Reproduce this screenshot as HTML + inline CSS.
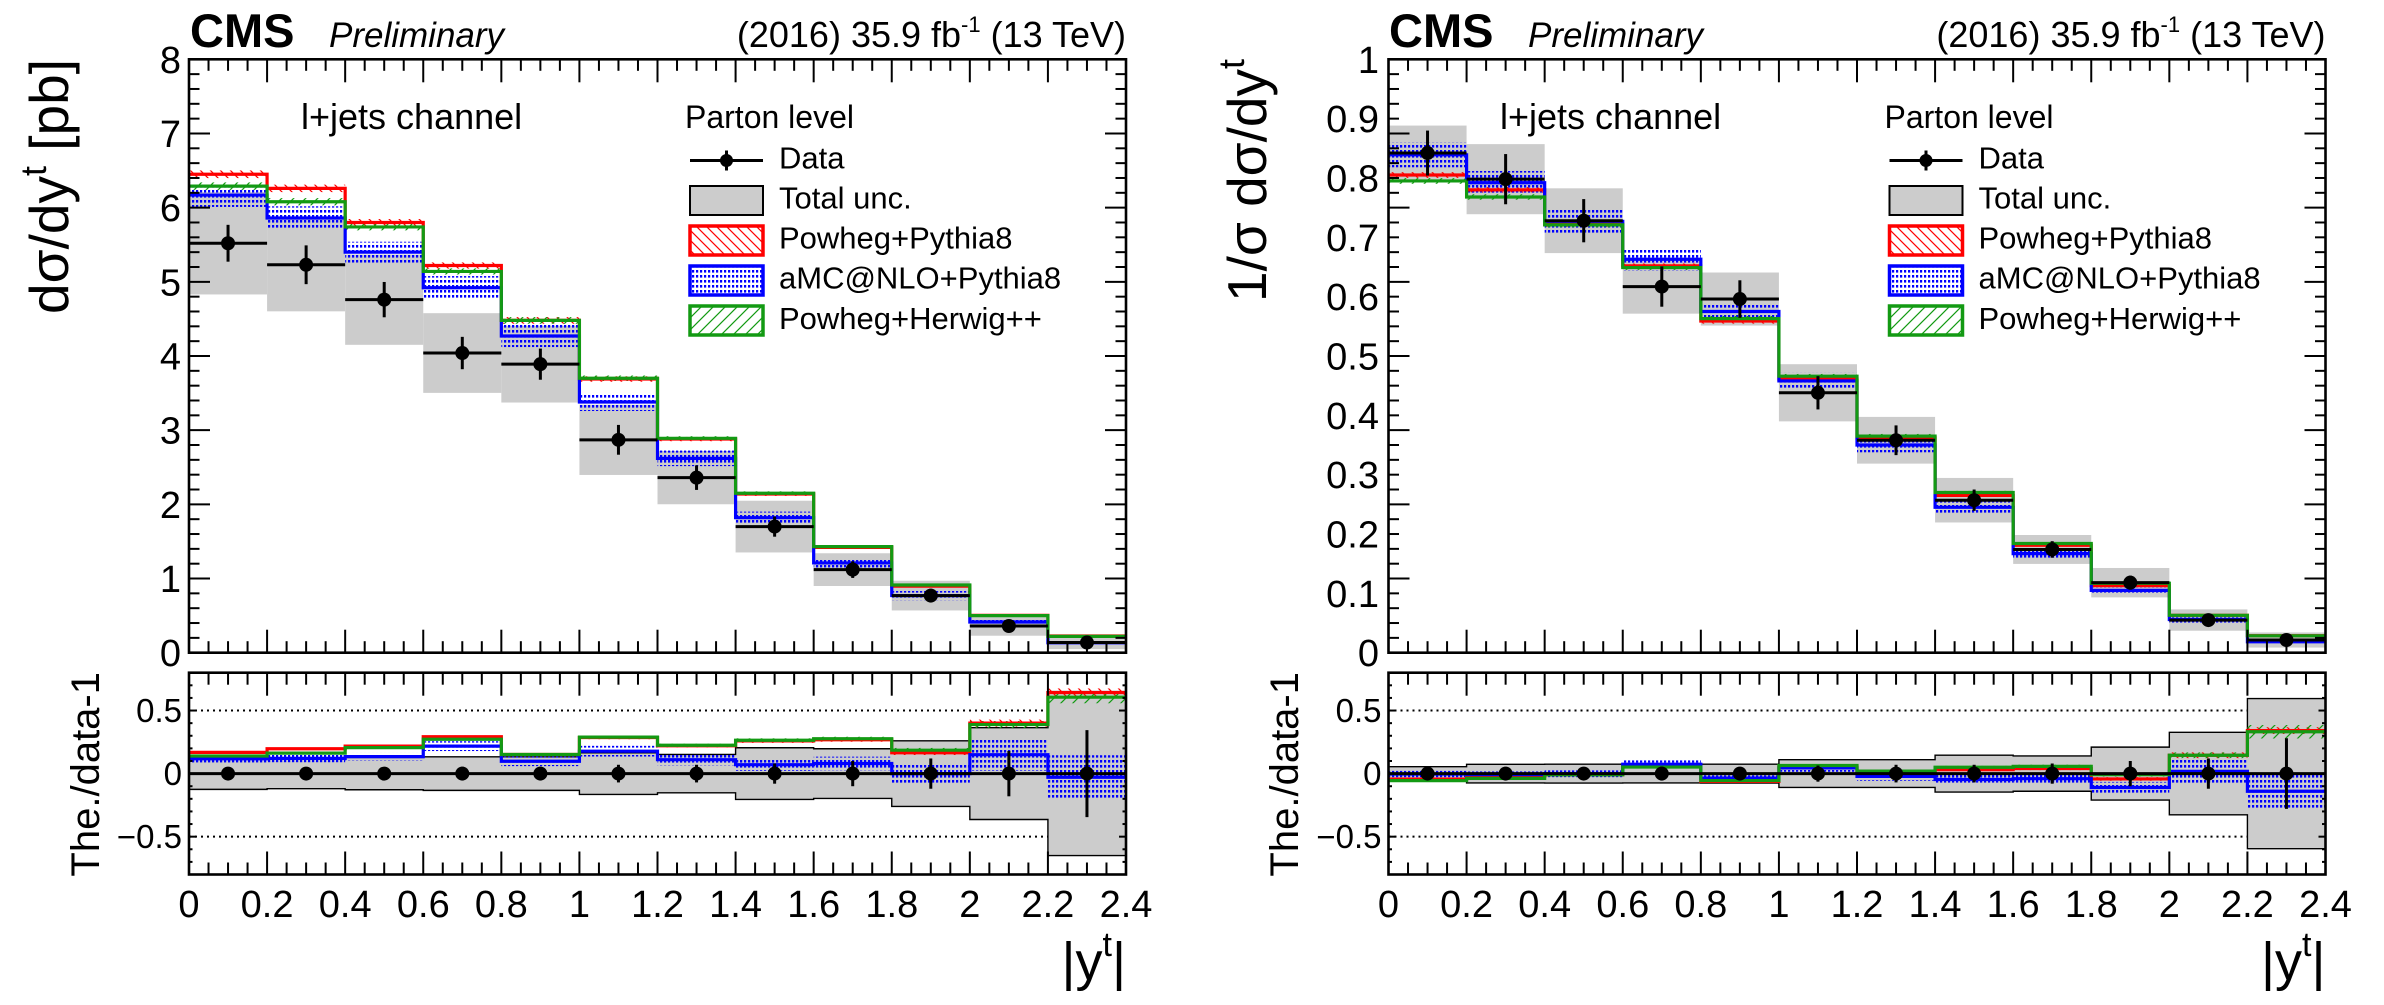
<!DOCTYPE html>
<html><head><meta charset="utf-8">
<style>
html,body{margin:0;padding:0;background:#fff;}
svg{display:block;}
text{font-family:"Liberation Sans",Arial,sans-serif;fill:#000;}
</style></head>
<body>
<svg id="s" width="2384" height="1005" viewBox="0 0 2384 1005" xmlns="http://www.w3.org/2000/svg">
<defs>
 <pattern id="pBlue" width="4" height="5" patternUnits="userSpaceOnUse">
   <rect x="0" y="0" width="2.2" height="2.6" fill="#0000ff"/>
 </pattern>
 <pattern id="pRed" width="10" height="10" patternUnits="userSpaceOnUse">
   <path d="M0,0 L10,10 M-2,8 L2,12 M8,-2 L12,2" stroke="#ff0000" stroke-width="1.2" fill="none"/>
 </pattern>
 <pattern id="pGreen" width="12" height="12" patternUnits="userSpaceOnUse">
   <path d="M0,12 L12,0 M-2,2 L2,-2 M10,14 L14,10" stroke="#139a13" stroke-width="1.2" fill="none"/>
 </pattern>
</defs>
<g id="plots"></g>

<!-- Left panel text -->
<text x="190" y="47" font-size="47" font-weight="bold">CMS</text>
<text x="329" y="47" font-size="35" font-style="italic">Preliminary</text>
<text x="1126" y="47" font-size="36" text-anchor="end">(2016) 35.9 fb<tspan dy="-15" font-size="22">-1</tspan><tspan dy="15"> (13 TeV)</tspan></text>
<text x="301" y="129" font-size="36">l+jets channel</text>
<text x="685" y="128" font-size="32">Parton level</text>
<text x="779" y="168.5" font-size="31">Data</text>
<text x="779" y="208.5" font-size="31">Total unc.</text>
<text x="779" y="248.5" font-size="31">Powheg+Pythia8</text>
<text x="779" y="288.5" font-size="31">aMC@NLO+Pythia8</text>
<text x="779" y="329" font-size="31">Powheg+Herwig++</text>

<text transform="translate(68,59) rotate(-90)" text-anchor="end" font-size="55">dσ/dy<tspan dy="-22" font-size="36">t</tspan><tspan dy="22"> [pb]</tspan></text>
<text transform="translate(99,672) rotate(-90)" text-anchor="end" font-size="40">The./data-1</text>

<g font-size="38" text-anchor="end">
<text x="181" y="666.2">0</text>
<text x="181" y="592.0">1</text>
<text x="181" y="517.9">2</text>
<text x="181" y="443.7">3</text>
<text x="181" y="369.5">4</text>
<text x="181" y="295.3">5</text>
<text x="181" y="221.2">6</text>
<text x="181" y="147.0">7</text>
<text x="181" y="72.8">8</text>
</g>
<g font-size="33" text-anchor="end">
<text x="182" y="722">0.5</text>
<text x="182" y="785.1">0</text>
<text x="182" y="848.2">−0.5</text>
</g>
<g font-size="38" text-anchor="middle">
<text x="189" y="917">0</text>
<text x="267.1" y="917">0.2</text>
<text x="345.2" y="917">0.4</text>
<text x="423.3" y="917">0.6</text>
<text x="501.3" y="917">0.8</text>
<text x="579.4" y="917">1</text>
<text x="657.5" y="917">1.2</text>
<text x="735.6" y="917">1.4</text>
<text x="813.7" y="917">1.6</text>
<text x="891.8" y="917">1.8</text>
<text x="969.8" y="917">2</text>
<text x="1047.9" y="917">2.2</text>
<text x="1126" y="917">2.4</text>
</g>
<text x="1126" y="980" font-size="54" text-anchor="end">|y<tspan dy="-24" font-size="34">t</tspan><tspan dy="24">|</tspan></text>

<!-- Right panel text -->
<text x="1389" y="47" font-size="47" font-weight="bold">CMS</text>
<text x="1528" y="47" font-size="35" font-style="italic">Preliminary</text>
<text x="2325.5" y="47" font-size="36" text-anchor="end">(2016) 35.9 fb<tspan dy="-15" font-size="22">-1</tspan><tspan dy="15"> (13 TeV)</tspan></text>
<text x="1500" y="129" font-size="36">l+jets channel</text>
<text x="1884.5" y="128" font-size="32">Parton level</text>
<text x="1978.5" y="168.5" font-size="31">Data</text>
<text x="1978.5" y="208.5" font-size="31">Total unc.</text>
<text x="1978.5" y="248.5" font-size="31">Powheg+Pythia8</text>
<text x="1978.5" y="288.5" font-size="31">aMC@NLO+Pythia8</text>
<text x="1978.5" y="329" font-size="31">Powheg+Herwig++</text>

<text transform="translate(1266,59) rotate(-90)" text-anchor="end" font-size="55">1/σ dσ/dy<tspan dy="-22" font-size="36">t</tspan></text>
<text transform="translate(1298,672) rotate(-90)" text-anchor="end" font-size="40">The./data-1</text>

<g font-size="38" text-anchor="end">
<text x="1379" y="666.2">0</text>
<text x="1379" y="606.9">0.1</text>
<text x="1379" y="547.5">0.2</text>
<text x="1379" y="488.2">0.3</text>
<text x="1379" y="428.8">0.4</text>
<text x="1379" y="369.5">0.5</text>
<text x="1379" y="310.2">0.6</text>
<text x="1379" y="250.8">0.7</text>
<text x="1379" y="191.5">0.8</text>
<text x="1379" y="132.1">0.9</text>
<text x="1379" y="72.8">1</text>
</g>
<g font-size="33" text-anchor="end">
<text x="1381.5" y="722">0.5</text>
<text x="1381.5" y="785.1">0</text>
<text x="1381.5" y="848.2">−0.5</text>
</g>
<g font-size="38" text-anchor="middle">
<text x="1388.5" y="917">0</text>
<text x="1466.6" y="917">0.2</text>
<text x="1544.7" y="917">0.4</text>
<text x="1622.8" y="917">0.6</text>
<text x="1700.8" y="917">0.8</text>
<text x="1778.9" y="917">1</text>
<text x="1857" y="917">1.2</text>
<text x="1935.1" y="917">1.4</text>
<text x="2013.2" y="917">1.6</text>
<text x="2091.3" y="917">1.8</text>
<text x="2169.3" y="917">2</text>
<text x="2247.4" y="917">2.2</text>
<text x="2325.5" y="917">2.4</text>
</g>
<text x="2325.5" y="980" font-size="54" text-anchor="end">|y<tspan dy="-24" font-size="34">t</tspan><tspan dy="24">|</tspan></text>
</svg>

<script>
(function(){
const NS="http://www.w3.org/2000/svg";
const root=document.getElementById('plots');
function el(tag,a,p){const e=document.createElementNS(NS,tag);for(const k in a)e.setAttribute(k,a[k]);(p||root).appendChild(e);return e;}
const MT=59.3,MB=652.7,RT=672.7,RB=874.5,W=937;
const RED='#ff0000',BLUE='#0000ff',GRN='#139a13',GRAY='#cccccc';

function panel(P){
  const X0=P.x0,X1=X0+W,n=12,BW=W/12;
  const xs=v=>X0+v*W/2.4;
  const ym=v=>MB-v*(MB-MT)/P.ymax;
  const RM=(RT+RB)/2,RS=(RB-RT)/1.6;
  const yr=v=>RM-v*RS;
  function step(vals,f){let s='M'+xs(0)+','+f(vals[0]);for(let i=0;i<vals.length;i++){s+=' H'+xs((i+1)*0.2);if(i+1<vals.length)s+=' V'+f(vals[i+1]);}return s;}

  // ---------- main pad ----------
  for(let i=0;i<n;i++){const d=P.d[i],g=P.g[i];
    el('rect',{x:xs(i*.2),y:ym(d*(1+g)),width:BW,height:ym(d*(1-g))-ym(d*(1+g)),fill:GRAY});}
  const models=[[P.red,P.redRel,'url(#pRed)',RED],[P.blue,P.blueRel,'url(#pBlue)',BLUE],[P.green,P.greenRel,'url(#pGreen)',GRN]];
  for(const [m,rel,pat] of models){for(let i=0;i<n;i++){const hi=m[i]*(1+rel[i]),lo=m[i]*(1-rel[i]);
    el('rect',{x:xs(i*.2),y:ym(hi),width:BW,height:ym(lo)-ym(hi),fill:pat});}}
  for(const [m,rel,pat,c] of models){el('path',{d:step(m,ym),fill:'none',stroke:c,'stroke-width':3.2});}
  for(let i=0;i<n;i++){const d=P.d[i],e=d*P.de[i],cx=xs(i*.2+.1),cy=ym(d);
    el('line',{x1:xs(i*.2),x2:xs(i*.2+.2),y1:cy,y2:cy,stroke:'#000','stroke-width':3});
    el('line',{x1:cx,x2:cx,y1:ym(d+e),y2:ym(d-e),stroke:'#000','stroke-width':3});
    el('circle',{cx:cx,cy:cy,r:7,fill:'#000'});}

  // ---------- ratio pad ----------
  for(const v of [0.5,-0.5]) el('line',{x1:X0,x2:X1,y1:yr(v),y2:yr(v),stroke:'#000','stroke-width':2,'stroke-dasharray':'2 4'});
  let pts=[];
  for(let i=0;i<n;i++){pts.push([xs(i*.2),yr(P.g[i])],[xs(i*.2+.2),yr(P.g[i])]);}
  for(let i=n-1;i>=0;i--){pts.push([xs(i*.2+.2),yr(-P.g[i])],[xs(i*.2),yr(-P.g[i])]);}
  el('polygon',{points:pts.map(p=>p.join(',')).join(' '),fill:GRAY,stroke:'#000','stroke-width':1.4});
  const rmodels=models.map(([m,rel,pat,c])=>[m.map((v,i)=>v/P.d[i]-1),rel.map((r,i)=>m[i]*r/P.d[i]),pat,c]);
  for(const [r,hw,pat] of rmodels){for(let i=0;i<n;i++){
    el('rect',{x:xs(i*.2),y:yr(r[i]+hw[i]),width:BW,height:yr(r[i]-hw[i])-yr(r[i]+hw[i]),fill:pat});}}
  for(const [r,hw,pat,c] of rmodels){el('path',{d:step(r,yr),fill:'none',stroke:c,'stroke-width':3.2});}
  el('line',{x1:X0,x2:X1,y1:yr(0),y2:yr(0),stroke:'#000','stroke-width':3});
  for(let i=0;i<n;i++){const e=P.de[i],cx=xs(i*.2+.1);
    el('line',{x1:cx,x2:cx,y1:yr(e),y2:yr(-e),stroke:'#000','stroke-width':3});
    el('circle',{cx:cx,cy:yr(0),r:7,fill:'#000'});}

  // ---------- frames & ticks ----------
  const tk={stroke:'#000','stroke-width':2};
  function xticks(yb,yt,Lmaj,Lmin){for(let k=0;k<=48;k++){const x=xs(k*0.05),L=(k%4==0)?Lmaj:Lmin;
    el('line',Object.assign({x1:x,x2:x,y1:yb,y2:yb-L},tk));
    el('line',Object.assign({x1:x,x2:x,y1:yt,y2:yt+L},tk));}}
  xticks(MB,MT,23,11.5);
  xticks(RB,RT,23,12);
  for(let k=0;k<=40;k++){const y=ym(k*P.ymax/40),L=(k%5==0)?21:10.5;
    el('line',Object.assign({x1:X0,x2:X0+L,y1:y,y2:y},tk));
    el('line',Object.assign({x1:X1,x2:X1-L,y1:y,y2:y},tk));}
  for(let k=0;k<=16;k++){const v=-0.8+k*0.1,y=yr(v),L=(Math.abs(Math.round(v*10))%5==0)?7:3.5;
    el('line',Object.assign({x1:X0,x2:X0+L,y1:y,y2:y},tk));
    el('line',Object.assign({x1:X1,x2:X1-L,y1:y,y2:y},tk));}
  el('rect',{x:X0,y:MT,width:W,height:MB-MT,fill:'none',stroke:'#000','stroke-width':2.6});
  el('rect',{x:X0,y:RT,width:W,height:RB-RT,fill:'none',stroke:'#000','stroke-width':2.6});

  // ---------- legend symbols ----------
  const lx=X0+501,lw=73,lh=29;
  const cy=i=>160.5+40*i;
  el('line',{x1:lx,x2:lx+lw,y1:cy(0),y2:cy(0),stroke:'#000','stroke-width':3});
  el('line',{x1:lx+lw/2,x2:lx+lw/2,y1:cy(0)-10,y2:cy(0)+10,stroke:'#000','stroke-width':3});
  el('circle',{cx:lx+lw/2,cy:cy(0),r:6.5,fill:'#000'});
  el('rect',{x:lx,y:cy(1)-lh/2,width:lw,height:lh,fill:GRAY,stroke:'#000','stroke-width':2});
  el('rect',{x:lx,y:cy(2)-lh/2,width:lw,height:lh,fill:'url(#pRed)',stroke:RED,'stroke-width':3.5});
  el('rect',{x:lx,y:cy(3)-lh/2,width:lw,height:lh,fill:'url(#pBlue)',stroke:BLUE,'stroke-width':3.5});
  el('rect',{x:lx,y:cy(4)-lh/2,width:lw,height:lh,fill:'url(#pGreen)',stroke:GRN,'stroke-width':3.5});
}

panel({x0:189,ymax:8,
  d:[5.52,5.23,4.76,4.04,3.89,2.87,2.36,1.70,1.12,0.77,0.36,0.137],
  de:[.045,.05,.05,.054,.054,.07,.07,.08,.10,.12,.18,.345],
  g:[.125,.12,.128,.133,.133,.165,.152,.205,.197,.26,.364,.65],
  red:[6.45,6.26,5.80,5.22,4.48,3.69,2.88,2.14,1.42,0.897,0.504,0.225],
  green:[6.29,6.08,5.74,5.14,4.48,3.70,2.89,2.15,1.43,0.913,0.50,0.22],
  blue:[6.17,5.86,5.40,4.92,4.27,3.38,2.62,1.82,1.21,0.77,0.414,0.133],
  blueRel:[.026,.027,.026,.032,.035,.036,.04,.045,.05,.08,.11,.18],
  redRel:[.008,.008,.008,.008,.01,.01,.01,.012,.012,.015,.02,.02],
  greenRel:[.008,.008,.008,.008,.01,.01,.01,.012,.012,.015,.02,.03]
});
panel({x0:1388.5,ymax:1,
  d:[.842,.798,.728,.617,.596,.438,.358,.257,.174,.118,.055,.0214],
  de:[.045,.053,.05,.055,.053,.064,.07,.07,.08,.10,.12,.28],
  g:[.055,.074,.075,.074,.075,.11,.11,.146,.14,.21,.327,.595],
  red:[.805,.780,.722,.652,.559,.461,.362,.265,.181,.113,.063,.0287],
  green:[.795,.768,.721,.649,.563,.466,.365,.270,.184,.117,.063,.0285],
  blue:[.839,.792,.727,.663,.575,.458,.350,.245,.167,.105,.056,.0184],
  blueRel:[.025,.025,.027,.028,.023,.03,.035,.045,.05,.05,.10,.17],
  redRel:[.006,.006,.006,.006,.008,.008,.01,.01,.012,.015,.02,.02],
  greenRel:[.006,.006,.006,.006,.008,.008,.01,.01,.012,.015,.02,.04]
});
})();
</script>
</body></html>
